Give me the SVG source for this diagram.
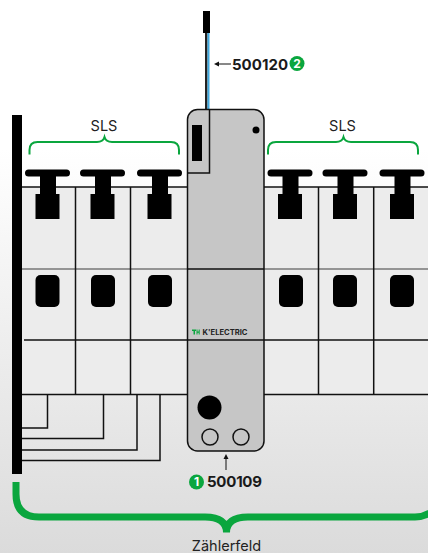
<svg xmlns="http://www.w3.org/2000/svg" width="428" height="553" viewBox="0 0 428 553">
<style>
.ln{stroke:#111;stroke-width:1.5;fill:none}
.gr{stroke:#777;stroke-width:1.5;fill:none}
.br{stroke:#0aa63e;fill:none}
.k{fill:#000}
.t{font-family:"Inter","Liberation Sans",sans-serif;font-size:14.5px;fill:#222;text-anchor:middle}
.b{font-family:"Inter","Liberation Sans",sans-serif;font-size:15px;font-weight:700;fill:#1a1a1a}
.n{font-family:"Inter","Liberation Sans",sans-serif;font-size:12px;font-weight:700;fill:#fff;text-anchor:middle}
</style>
<defs>
<linearGradient id="bg" x1="0" y1="0" x2="0" y2="1"><stop offset="0.27" stop-color="#fff"/><stop offset="1" stop-color="#dbdbdb"/></linearGradient>
<g id="sw"><rect x="0" y="-3.5" width="45" height="7" rx="3.5" class="k"/><rect x="15" y="0" width="16" height="22" class="k"/><rect x="10.5" y="21" width="24" height="25" class="k"/></g>
</defs>
<rect width="428" height="553" fill="url(#bg)"/>
<rect x="22" y="187" width="406" height="207" fill="#ececec"/>
<g id="connectors">
<path class="ln" d="M22 187H428"/>
<path class="gr" d="M22 269H428"/>
<path class="ln" d="M24 340H428"/>
<path class="ln" d="M22 394.500H428"/>
<path class="ln" d="M75.500 187V394M130.500 187V394M318.500 187V394M373.700 187V394"/>
<path class="ln" d="M22 428H47.500V394M22 438.500H103.500V394M22 450H137V394M22 460.500H160V394"/>
<path d="M231 64H218" stroke="#111" stroke-width="1"/><path d="M214 64L219 61.500V66.500Z" fill="#111"/>
<path d="M226 470V458" stroke="#111" stroke-width="1"/><path d="M226 454L223.500 459H228.500Z" fill="#111"/>
</g>
<g id="busbar"><rect x="12" y="115" width="10" height="359" class="k"/></g>
<g id="switches-left">
<use href="#sw" x="25" y="173"/><use href="#sw" x="80" y="173"/><use href="#sw" x="137" y="173"/>
<rect x="35.500" y="275" width="24" height="32" rx="5" class="k"/><rect x="91" y="275" width="24" height="32" rx="5" class="k"/><rect x="148" y="275" width="24" height="32" rx="5" class="k"/>
</g>
<g id="switches-right">
<use href="#sw" x="267.500" y="173"/><use href="#sw" x="322.500" y="173"/><use href="#sw" x="379.500" y="173"/>
<rect x="279" y="275" width="24" height="32" rx="5" class="k"/><rect x="333" y="275" width="24" height="32" rx="5" class="k"/><rect x="390" y="275" width="24" height="32" rx="5" class="k"/>
</g>
<g id="cable">
<rect x="205" y="33" width="2.500" height="77" fill="#222"/><rect x="207.500" y="33" width="2" height="77" fill="#3fa9e0"/>
<rect x="203" y="11" width="7" height="22" class="k"/>
</g>
<g id="meter-500109">
<rect x="187.500" y="109.500" width="76.500" height="341.500" rx="10" fill="#c6c6c6" stroke="#111" stroke-width="1.500"/>
<path class="ln" d="M187.500 269H264M187.500 340H264"/>
<path class="ln" d="M187.500 173H209.500V110"/>
<rect x="192" y="125" width="10" height="36" class="k"/>
<circle cx="256" cy="130" r="3.500" class="k"/>
<circle cx="209.500" cy="407.500" r="12" class="k"/>
<circle cx="210" cy="437" r="8" fill="none" stroke="#111" stroke-width="1.500"/>
<circle cx="241" cy="437" r="8" fill="none" stroke="#111" stroke-width="1.500"/>
<path d="M192 329.500h4v1.500h-1v3.500h-1.500v-3.500h-1.500zM196.500 329.500h1v2h1.200v-2h1v5h-1v-1.700h-1.200v1.700h-1z" fill="#0aa63e"/>
<text x="202.500" y="334.800" font-family="Inter,'Liberation Sans',sans-serif" font-size="7" font-weight="700" fill="#222" textLength="45" lengthAdjust="spacingAndGlyphs">K'ELECTRIC</text>
</g>
<g id="brace-left"><path class="br" stroke-width="2" d="M29.500 154.500V150Q29.500 142 37.500 142H97Q103 142 104.500 137Q106 142 112 142H171Q179 142 179 150V154.500"/><text class="t" x="104" y="131">SLS</text></g>
<g id="brace-right"><path class="br" stroke-width="2" d="M268 154.500V150Q268 142 276 142H336Q342 142 343.500 137Q345 142 351 142H410Q418 142 418 150V154.500"/><text class="t" x="342.500" y="131">SLS</text></g>
<g id="brace-bottom"><path class="br" stroke-width="7" d="M16 482V494Q16 517 39 517H205Q226.500 517 226.500 532.500Q226.500 517 248 517H415Q428 517 440 505"/><text class="t" x="226.500" y="551">Zählerfeld</text></g>
<g id="label-500120"><text class="b" x="232" y="69.500" textLength="56">500120</text><circle cx="297" cy="63.500" r="7.500" fill="#0aa63e"/><text class="n" x="297" y="67.800">2</text></g>
<g id="label-500109"><circle cx="196.500" cy="482" r="7.500" fill="#0aa63e"/><text class="n" x="196.500" y="486.300">1</text><text class="b" x="207" y="487" textLength="55">500109</text></g>
</svg>
